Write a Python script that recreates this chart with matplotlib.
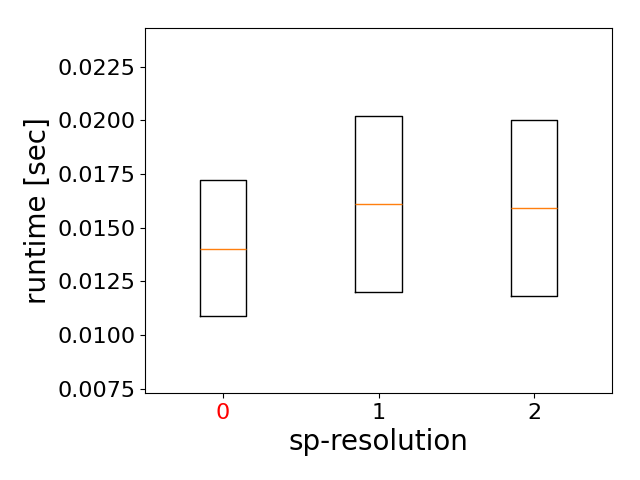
import matplotlib
matplotlib.use("Agg")
import matplotlib.pyplot as plt

categories = ["0", "1", "2"]
q1 = [0.0109, 0.0120, 0.0118]
med = [0.0140, 0.0161, 0.0159]
q3 = [0.0172, 0.0202, 0.0200]

fig = plt.figure(figsize=(6.4, 4.8), dpi=100)
ax = fig.add_axes([0.227, 0.181, 0.729, 0.761])
stats = [dict(label=c, q1=a, med=m, q3=b, whislo=a, whishi=b, fliers=[])
         for c, a, m, b in zip(categories, q1, med, q3)]
ax.bxp(stats, positions=range(len(categories)), widths=0.3, showcaps=False)
ax.set_xlim(-0.5, 2.5)
ax.set_ylim(0.0073, 0.0243)
ax.set_yticks([0.0075, 0.0100, 0.0125, 0.0150, 0.0175, 0.0200, 0.0225])
ax.set_xticks(range(len(categories)))
ax.set_xticklabels(categories)
ax.tick_params(labelsize=16)
ax.get_xticklabels()[0].set_color("red")
ax.set_xlabel("sp-resolution", fontsize=20)
ax.set_ylabel("runtime [sec]", fontsize=20)
fig.savefig("out.png")
